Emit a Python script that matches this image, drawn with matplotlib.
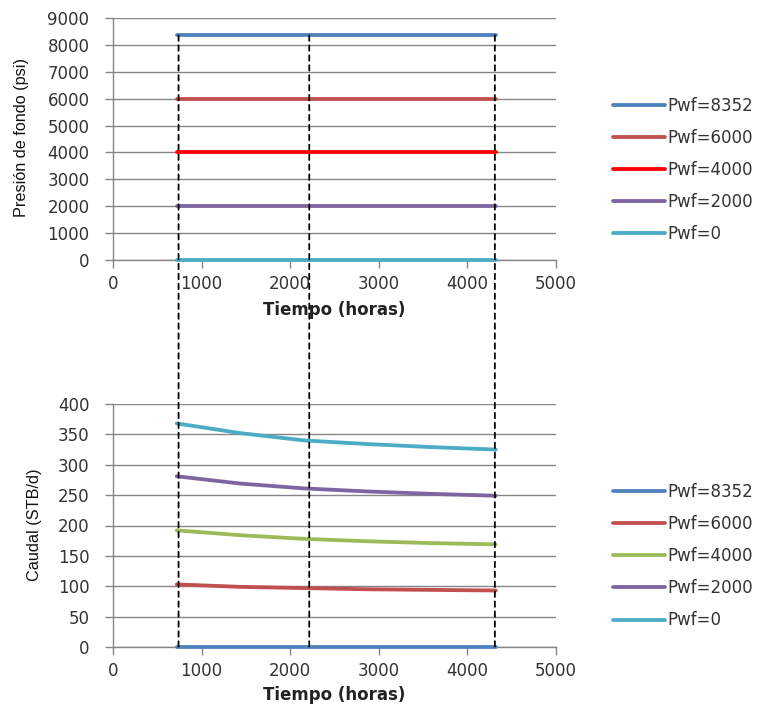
import matplotlib
matplotlib.use("Agg")
import matplotlib.pyplot as plt
from matplotlib.patches import ConnectionPatch
from matplotlib.lines import Line2D

# Tiempo de simulación (horas)
tiempo = [720, 1440, 2160, 2880, 3600, 4320]

# Presión de fondo fluyente por caso (psi)
series_labels = ["Pwf=8352", "Pwf=6000", "Pwf=4000", "Pwf=2000", "Pwf=0"]
pwf_values = [8352, 6000, 4000, 2000, 0]

# Caudal resultante (STB/d)
q_8352 = [0, 0, 0, 0, 0, 0]
q_6000 = [103, 99, 97, 95, 94, 93]
q_4000 = [192, 184, 178, 174, 171, 169]
q_2000 = [281, 269, 261, 256, 252, 249]
q_0 = [368, 352, 340, 334, 329, 325]

# Tiempos de referencia marcados con líneas verticales
t_ref = [740, 2215, 4310]

x_ticks = [0, 1000, 2000, 3000, 4000, 5000]
p_ticks = [0, 1000, 2000, 3000, 4000, 5000, 6000, 7000, 8000, 9000]
q_ticks = [0, 50, 100, 150, 200, 250, 300, 350, 400]

colors_top = ["#4F81BD", "#C0504D", "#FF0000", "#8064A2", "#4BACC6"]
colors_bot = ["#4F81BD", "#C0504D", "#9BBB59", "#8064A2", "#4BACC6"]

W, H = 764, 706
fig = plt.figure(figsize=(W / 100, H / 100), dpi=100)
fig.patch.set_facecolor("white")

def fx(px):
    return px / W

def fy(py):
    return 1 - py / H

x0, x1 = 113, 556
ax1 = fig.add_axes([fx(x0), fy(260), fx(x1) - fx(x0), fy(18) - fy(260)])
ax2 = fig.add_axes([fx(x0), fy(647), fx(x1) - fx(x0), fy(404) - fy(647)])

grid_c = "#868686"
lab_font = ["Liberation Sans Narrow", "Liberation Sans", "DejaVu Sans"]

def style(ax, yticks, xlab_y):
    ax.set_xlim(0, 5000)
    ax.set_xticks(x_ticks)
    ax.set_yticks(yticks)
    ax.set_ylim(yticks[0], yticks[-1])
    for s in ("top", "right"):
        ax.spines[s].set_visible(False)
    for s in ("left", "bottom"):
        ax.spines[s].set_color(grid_c)
        ax.spines[s].set_linewidth(1.0)
    ax.yaxis.grid(True, color=grid_c, linewidth=1.0)
    ax.set_axisbelow(True)
    ax.tick_params(axis="both", colors=grid_c, length=6, width=1.0,
                   labelcolor="#333333", labelsize=12)
    ax.tick_params(axis="x", pad=5)
    ax.tick_params(axis="y", pad=11)
    for lbl in ax.get_xticklabels() + ax.get_yticklabels():
        lbl.set_family("DejaVu Sans")
    ax.set_xlabel("Tiempo (horas)", fontsize=12, fontweight="bold",
                  color="#222222", va="center")
    ax.xaxis.set_label_coords(0.5, xlab_y)

lw = 3.8 * 72 / 100

# Gráfico superior: presión de fondo
top_handles = []
for lbl, p, c in zip(series_labels, pwf_values, colors_top):
    ax1.plot([tiempo[0], tiempo[-1]], [p, p], color=c, lw=lw,
             solid_capstyle="round", zorder=3, clip_on=False)
    top_handles.append(Line2D([], [], color=c, lw=lw, solid_capstyle="round", label=lbl))
style(ax1, p_ticks, -50 / 242)
ax1.set_ylabel("Presión de fondo (psi)", fontsize=11.7, family=lab_font,
               color="#111111", va="center")
ax1.yaxis.set_label_coords((22 - x0) / (x1 - x0), (260 - 137.5) / 242)

# Gráfico inferior: caudal
caudales = [q_8352, q_6000, q_4000, q_2000, q_0]
bot_handles = []
for lbl, q, c in zip(series_labels, caudales, colors_bot):
    ax2.plot(tiempo, q, color=c, lw=lw, solid_capstyle="round", zorder=3,
             clip_on=False)
    bot_handles.append(Line2D([], [], color=c, lw=lw, solid_capstyle="round", label=lbl))
style(ax2, q_ticks, -48 / 243)
ax2.set_ylabel("Caudal (STB/d)", fontsize=11.7, family=lab_font,
               color="#111111", va="center")
ax2.yaxis.set_label_coords((35 - x0) / (x1 - x0), (647 - 525) / 243)

# Líneas verticales discontinuas que unen ambos gráficos
for t in t_ref:
    con = ConnectionPatch(xyA=(t, pwf_values[0]), coordsA=ax1.transData,
                          xyB=(t, 0), coordsB=ax2.transData,
                          color="black", lw=1.3, linestyle=(0, (3, 2.5)), zorder=5)
    fig.add_artist(con)

leg_kw = dict(frameon=False, handlelength=3.1, handletextpad=0.15,
              labelspacing=0.85, borderpad=0, borderaxespad=0,
              prop={"family": "DejaVu Sans", "size": 12}, labelcolor="#333333")
fig.legend(handles=top_handles, loc="center left",
           bbox_to_anchor=(fx(613), fy(170)), **leg_kw)
fig.legend(handles=bot_handles, loc="center left",
           bbox_to_anchor=(fx(613), fy(556)), **leg_kw)

fig.savefig("out.png", dpi=100, facecolor="white")
